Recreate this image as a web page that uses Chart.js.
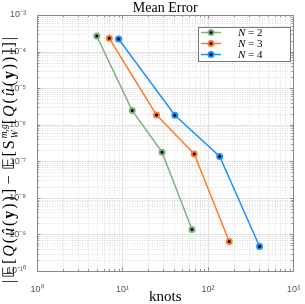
<!DOCTYPE html>
<html>
<head>
<meta charset="utf-8">
<script src="https://cdn.jsdelivr.net/npm/chart.js@4.4.0/dist/chart.umd.min.js"></script>
<style>
  html, body { margin: 0; padding: 0; background: #fff; }
  #wrap { width: 305px; height: 304px; }
</style>
</head>
<body>
<div id="wrap"><canvas id="myChart" width="305" height="304"></canvas></div>
<script>
'use strict';

// data
const knotsN2 = [5, 13, 29, 65];
const errN2 = [2.67e-4, 2.43e-6, 1.78e-7, 1.36e-9];
const knotsN3 = [7, 25, 69, 177];
const errN3 = [2.31e-4, 1.85e-6, 1.59e-7, 6.4e-10];
const knotsN4 = [9, 41, 137, 401];
const errN4 = [2.21e-4, 1.82e-6, 1.35e-7, 4.67e-10];
const seriesLabels = ['2', '3', '4'];
const xTickValues = [1, 10, 100, 1000];
const yTickValues = [1e-10, 1e-9, 1e-8, 1e-7, 1e-6, 1e-5, 1e-4, 1e-3];

const colors = ['#7fb17f', '#ff7a2e', '#1e8fff'];
const sup = { '-': '⁻', '0': '⁰', '1': '¹', '2': '²', '3': '³', '4': '⁴', '5': '⁵', '6': '⁶', '7': '⁷', '8': '⁸', '9': '⁹' };

function powLabel(v) {
  const e = String(Math.round(Math.log10(v)));
  return '10' + e.split('').map(c => sup[c]).join('');
}

function toPoints(xs, ys) {
  return xs.map((x, i) => ({ x: x, y: ys[i] }));
}

function makeSet(i, xs, ys) {
  return {
    label: seriesLabels[i],
    data: toPoints(xs, ys),
    borderColor: colors[i],
    borderWidth: 1.5,
    pointRadius: 2.5,
    pointHoverRadius: 2.5,
    pointBorderWidth: 2,
    pointBorderColor: colors[i],
    pointBackgroundColor: '#000',
    fill: false,
    tension: 0
  };
}

// grid, box, ticks, titles, legend
const decor = {
  id: 'decor',
  beforeDatasetsDraw(chart) {
    const ctx = chart.ctx;
    const a = chart.chartArea;
    const sx = chart.scales.x, sy = chart.scales.y;
    ctx.save();
    // minor grid
    ctx.strokeStyle = '#cfcfcf';
    ctx.lineWidth = 0.7;
    ctx.setLineDash([1, 1.5]);
    for (let d = 0; d < 3; d++) {
      for (let m = 2; m <= 9; m++) {
        const px = Math.round(sx.getPixelForValue(m * Math.pow(10, d))) + 0.5;
        ctx.beginPath(); ctx.moveTo(px, a.top); ctx.lineTo(px, a.bottom); ctx.stroke();
      }
    }
    for (let d = -10; d < -3; d++) {
      for (let m = 2; m <= 9; m++) {
        const py = Math.round(sy.getPixelForValue(m * Math.pow(10, d))) + 0.5;
        ctx.beginPath(); ctx.moveTo(a.left, py); ctx.lineTo(a.right, py); ctx.stroke();
      }
    }
    // major grid
    ctx.setLineDash([]);
    ctx.strokeStyle = '#e2e2e2';
    ctx.lineWidth = 1;
    xTickValues.forEach(v => {
      const px = Math.round(sx.getPixelForValue(v)) + 0.5;
      ctx.beginPath(); ctx.moveTo(px, a.top); ctx.lineTo(px, a.bottom); ctx.stroke();
    });
    yTickValues.forEach(v => {
      const py = Math.round(sy.getPixelForValue(v)) + 0.5;
      ctx.beginPath(); ctx.moveTo(a.left, py); ctx.lineTo(a.right, py); ctx.stroke();
    });
    ctx.restore();
  },
  afterDatasetsDraw(chart) {
    const ctx = chart.ctx;
    const a = chart.chartArea;
    const sx = chart.scales.x, sy = chart.scales.y;
    ctx.save();
    // inner tick marks
    ctx.strokeStyle = '#777';
    ctx.lineWidth = 0.8;
    for (let d = 0; d < 3; d++) {
      for (let m = 1; m <= 9; m++) {
        const len = m === 1 ? 3.5 : 2;
        const px = Math.round(sx.getPixelForValue(m * Math.pow(10, d))) + 0.5;
        ctx.beginPath();
        ctx.moveTo(px, a.bottom); ctx.lineTo(px, a.bottom - len);
        ctx.moveTo(px, a.top); ctx.lineTo(px, a.top + len);
        ctx.stroke();
      }
    }
    for (let d = -10; d < -3; d++) {
      for (let m = 1; m <= 9; m++) {
        const len = m === 1 ? 3.5 : 2;
        const py = Math.round(sy.getPixelForValue(m * Math.pow(10, d))) + 0.5;
        ctx.beginPath();
        ctx.moveTo(a.left, py); ctx.lineTo(a.left + len, py);
        ctx.moveTo(a.right, py); ctx.lineTo(a.right - len, py);
        ctx.stroke();
      }
    }
    // box
    ctx.strokeStyle = '#8a8a8a';
    ctx.lineWidth = 1;
    ctx.strokeRect(Math.round(a.left) + 0.5, Math.round(a.top) + 0.5,
      Math.round(a.right - a.left), Math.round(a.bottom - a.top));

    // title
    ctx.fillStyle = '#000';
    ctx.font = '14px "Liberation Serif"';
    ctx.textAlign = 'center';
    ctx.textBaseline = 'alphabetic';
    ctx.fillText('Mean Error', (a.left + a.right) / 2, 12);
    // x title
    ctx.font = '15px "Liberation Serif"';
    ctx.fillText('knots', (a.left + a.right) / 2, 301);

    // y title, built from pieces, spaced out to the wanted length
    const size = 16;
    const pieces = [
      ['|', 'normal', 1, 0],
      ['𝔼', 'normal', 1, 0],
      ['[', 'normal', 1, 0],
      ['Q', 'italic', 1, 0],
      ['(', 'normal', 1, 0],
      ['û', 'italic', 1, 0],
      ['(', 'normal', 1, 0],
      ['y', 'bold', 1, 0],
      [')', 'normal', 1, 0],
      [')', 'normal', 1, 0],
      [']', 'normal', 1, 0],
      ['−', 'normal', 1, 0, 'gap'],
      ['𝔼', 'normal', 1, 0],
      ['[', 'normal', 1, 0],
      ['S', 'normal', 1, 0],
      ['m,g', 'italic', 0.6, -0.42, 'sup'],
      ['W', 'italic', 0.6, 0.25, 'sub'],
      ['[', 'normal', 1, 0],
      ['Q', 'italic', 1, 0],
      ['(', 'normal', 1, 0],
      ['û', 'italic', 1, 0],
      ['(', 'normal', 1, 0],
      ['y', 'bold', 1, 0],
      [')', 'normal', 1, 0],
      [')', 'normal', 1, 0],
      [']', 'normal', 1, 0],
      [']', 'normal', 1, 0],
      ['|', 'normal', 1, 0]
    ];
    function fontOf(p) { return p[1] + ' ' + (size * p[2]) + 'px "Liberation Serif"'; }
    // natural length and number of gaps
    let natural = 0, gaps = 0, supW = 0;
    pieces.forEach(p => {
      ctx.font = fontOf(p);
      const w = ctx.measureText(p[0]).width;
      if (p[4] === 'sup') { supW = w; natural += w; }
      else if (p[4] === 'sub') { natural += Math.max(0, w - supW); }
      else { natural += w; gaps += (p[4] === 'gap' ? 4 : 1); }
    });
    const targetLen = 248;
    const gap = Math.max(0, (targetLen - natural) / gaps);
    ctx.translate(14, 159);
    ctx.rotate(-Math.PI / 2);
    ctx.textAlign = 'left';
    let x = -targetLen / 2, supStart = 0;
    pieces.forEach(p => {
      ctx.font = fontOf(p);
      const w = ctx.measureText(p[0]).width;
      if (p[4] === 'sup') { supStart = x; ctx.fillText(p[0], x, p[3] * size); x += w; }
      else if (p[4] === 'sub') { ctx.fillText(p[0], supStart, p[3] * size); x = Math.max(x, supStart + w); }
      else if (p[4] === 'gap') { x += gap * 1.5; ctx.fillText(p[0], x, 0); x += w + gap * 2.5; }
      else { ctx.fillText(p[0], x, 0); x += w + gap; }
    });
    ctx.restore();

    // legend
    ctx.save();
    const lx = 198.5, ly = 27.5, lw = 92, lh = 34;
    ctx.fillStyle = '#fff';
    ctx.fillRect(lx, ly, lw, lh);
    ctx.strokeStyle = '#777';
    ctx.lineWidth = 1;
    ctx.strokeRect(lx, ly, lw, lh);
    chart.data.datasets.forEach((ds, i) => {
      const yy = 32.5 + i * 11;
      ctx.strokeStyle = ds.borderColor;
      ctx.lineWidth = 1.5;
      ctx.beginPath(); ctx.moveTo(201, yy); ctx.lineTo(221, yy); ctx.stroke();
      ctx.beginPath(); ctx.arc(211, yy, 3.5, 0, Math.PI * 2);
      ctx.fillStyle = ds.borderColor; ctx.fill();
      ctx.beginPath(); ctx.arc(211, yy, 1.5, 0, Math.PI * 2);
      ctx.fillStyle = '#000'; ctx.fill();
      ctx.fillStyle = '#000';
      ctx.textBaseline = 'middle';
      ctx.textAlign = 'left';
      ctx.font = 'italic 11px "Liberation Serif"';
      ctx.fillText('N', 238, yy + 0.5);
      const nw = ctx.measureText('N').width;
      ctx.font = '11px "Liberation Serif"';
      ctx.fillText(' = ' + ds.label, 238 + nw, yy + 0.5);
    });
    ctx.restore();
  }
};

const config = {
  type: 'line',
  data: {
    datasets: [
      makeSet(0, knotsN2, errN2),
      makeSet(1, knotsN3, errN3),
      makeSet(2, knotsN4, errN4)
    ]
  },
  options: {
    responsive: false,
    animation: false,
    events: [],
    layout: { padding: { left: 0, right: 8, top: 15, bottom: 0 } },
    plugins: { legend: { display: false }, title: { display: false }, tooltip: { enabled: false } },
    scales: {
      x: {
        type: 'logarithmic',
        min: 1, max: 1000,
        afterBuildTicks(scale) { scale.ticks = xTickValues.map(v => ({ value: v })); },
        afterFit(scale) { scale.height = 33; },
        grid: { display: false },
        border: { display: false },
        ticks: {
          autoSkip: false, maxRotation: 0, padding: 5,
          color: '#555', font: { family: 'Liberation Sans', size: 9 },
          callback: v => powLabel(v)
        }
      },
      y: {
        type: 'logarithmic',
        min: 1e-10, max: 1e-3,
        afterBuildTicks(scale) { scale.ticks = yTickValues.map(v => ({ value: v })); },
        afterFit(scale) { scale.width = 37; },
        grid: { display: false },
        border: { display: false },
        ticks: {
          autoSkip: false, padding: 3,
          color: '#555', font: { family: 'Liberation Sans', size: 9 },
          callback: v => powLabel(v)
        }
      }
    }
  },
  plugins: [decor]
};

const myChart = new Chart(document.getElementById('myChart'), config);
</script>
</body>
</html>
